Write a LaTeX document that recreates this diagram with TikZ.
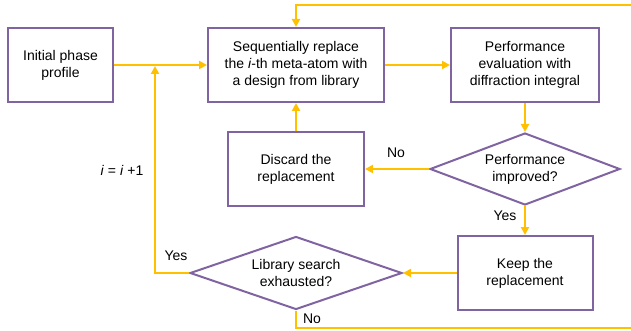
\documentclass[tikz,border=0pt]{standalone}
\usepackage{fontspec}
\setmainfont{Liberation Sans}
\usetikzlibrary{arrows.meta,shapes.geometric}
\definecolor{flowgold}{HTML}{FFC000}
\definecolor{flowpurple}{HTML}{8064A2}

\begin{document}
\begin{tikzpicture}[x=1pt,y=-1pt,
        txt/.style={font=\fontsize{14}{17}\selectfont,align=center},
        box/.style={draw=flowpurple,line width=2pt,inner sep=0pt,txt},
        decision/.style={diamond,draw=flowpurple,line width=2pt,inner sep=0pt},
        flow/.style={draw=flowgold,line width=2.8pt,-{Triangle[length=8pt,width=8pt]}},
        wire/.style={draw=flowgold,line width=2.8pt}]
    \useasboundingbox (0,0) rectangle (631,331);
    \node[box,minimum width=105,minimum height=74] (init) at (60.5,65) {Initial phase\\profile};
    \node[box,minimum width=176,minimum height=74] (seq) at (296,65) {Sequentially replace\\the \textit{i}-th meta-atom with\\a design from library};
    \node[box,minimum width=148,minimum height=74] (eval) at (525,65) {Performance\\evaluation with\\diffraction integral};
    \node[decision,minimum width=190,minimum height=72,label={[txt]center:{Performance\\improved?}}] (improved) at (525,169) {};
    \node[box,minimum width=136,minimum height=73] (discard) at (296,169) {Discard the\\replacement};
    \node[box,minimum width=135,minimum height=74] (keep) at (525,273) {Keep the\\replacement};
    \node[decision,minimum width=212,minimum height=73,label={[txt]center:{Library search\\exhausted?}}] (search) at (296,273) {};
    \coordinate (merge) at (155,66);
    \coordinate (topright) at (640,5);
    \coordinate (botright) at (640,328);
    % connectors
    \draw[flow] (init) -- (seq);
    \draw[flow] (seq) -- (eval);
    \draw[flow] (eval) -- (improved);
    \draw[flow] (improved) -- (discard);
    \draw[flow] (discard) -- (seq);
    \draw[flow] (improved) -- (keep);
    \draw[flow] (keep) -- (search);
    \draw[flow] (search.west) -| (merge);
    \draw[flow] (topright) -| (seq.north);
    \draw[wire] (search.south) |- (botright);
    % labels
    \node[txt] (noimp) at (396,153) {No};
    \node[txt] (yesimp) at (505,216) {Yes};
    \node[txt] (yessearch) at (176,256) {Yes};
    \node[txt] (nosearch) at (312,319) {No};
    \node[txt] (incr) at (122,170) {\textit{i} = \textit{i} +1};
\end{tikzpicture}
\end{document}
